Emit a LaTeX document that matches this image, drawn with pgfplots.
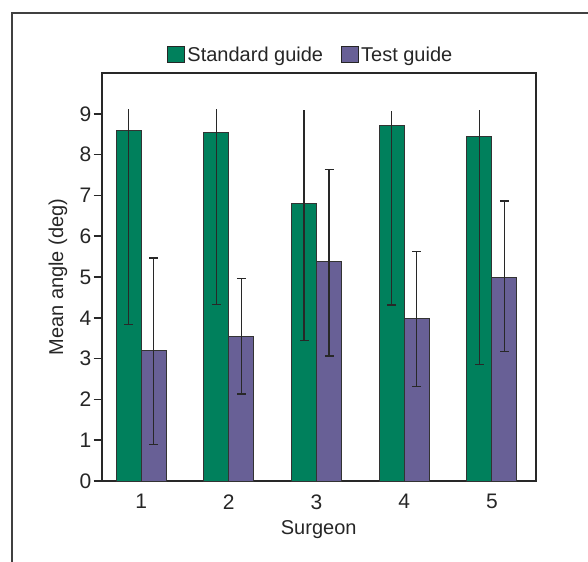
\documentclass[border=0pt]{standalone}
\usepackage{pgfplots}
\pgfplotsset{compat=1.18}
\usepackage{pgfplotstable}
\usepackage{fontspec}
\setmainfont{Liberation Sans}
\definecolor{stdgreen}{RGB}{0,128,92}
\definecolor{testpurple}{RGB}{104,96,150}
\definecolor{axisgray}{RGB}{40,40,40}

\pgfplotstableread{
x y ep em
1 8.60 0.52 4.76
2 8.53 0.59 4.20
3 6.79 2.30 3.34
4 8.72 0.35 4.41
5 8.44 0.65 5.58
}\stddata
\pgfplotstableread{
x y ep em
1 3.20 2.27 2.30
2 3.53 1.44 1.40
3 5.37 2.26 2.31
4 3.98 1.64 1.66
5 4.99 1.87 1.82
}\testdata

\begin{document}
\begin{tikzpicture}
\path[use as bounding box] (-101.7bp,-81bp) rectangle (486.3bp,481bp);
\draw[line width=1.3bp, color=black!75] (486.3bp,468bp) -- (-89.7bp,468bp) -- (-89.7bp,-81bp);
\begin{axis}[
  scale only axis,
  width=434bp, height=408bp,
  xmin=0.55, xmax=5.5,
  ymin=0, ymax=10,
  xtick={1,2,3,4,5},
  ytick={0,1,2,3,4,5,6,7,8,9},
  ytick pos=left,
  xtick style={draw=none},
  tick align=outside,
  major tick length=8bp,
  y tick style={line width=1.5bp, color=axisgray},
  axis line style={line width=2bp, color=axisgray},
  /pgf/number format/assume math mode=true,
  tick label style={font=\fontsize{21bp}{24bp}\selectfont, text=black!85},
  xticklabel style={yshift=-2bp},
  yticklabel style={xshift=1bp},
  label style={font=\fontsize{20bp}{23bp}\selectfont, text=black!85},
  xlabel={Surgeon},
  ylabel={Mean angle (deg)},
  xlabel style={at={(axis description cs:0.5,-0.12)}, anchor=center},
  ylabel style={at={(axis description cs:-0.1007,0.5)}, anchor=center},
  ybar, bar width=25bp,
  legend columns=2,
  legend style={at={(0.482,1.044)}, anchor=center, draw=none, fill=none,
    font=\fontsize{20bp}{23bp}\selectfont, text=black!85,
    /tikz/every even column/.append style={column sep=16bp}},
  legend image code/.code={\draw[#1,draw=black!85,line width=1bp] (0bp,-7bp) rectangle (17bp,9bp);},
  error bars/error bar style={draw=axisgray, line width=1.4bp},
  error bars/error mark options={draw=axisgray, line width=1.4bp, mark size=4.5bp, rotate=90},
]
\addplot[fill=stdgreen, draw=black!80, line width=1bp, bar shift=-12.5bp,
  error bars/.cd, y dir=minus, y explicit]
  table[x=x, y=y, y error plus=ep, y error minus=em]{\stddata};
\addlegendentry{Standard guide}
\addplot[fill=testpurple, draw=black!80, line width=1bp, bar shift=12.5bp,
  error bars/.cd, y dir=both, y explicit]
  table[x=x, y=y, y error plus=ep, y error minus=em]{\testdata};
\addlegendentry{Test guide}
\addplot[forget plot, fill=none, draw=none, bar shift=-12.5bp,
  error bars/.cd, y dir=plus, y explicit, error mark=none,
  error bar style={draw=axisgray, line width=1.4bp}]
  table[x=x, y=y, y error plus=ep, y error minus=em]{\stddata};
\end{axis}
\end{tikzpicture}
\end{document}
